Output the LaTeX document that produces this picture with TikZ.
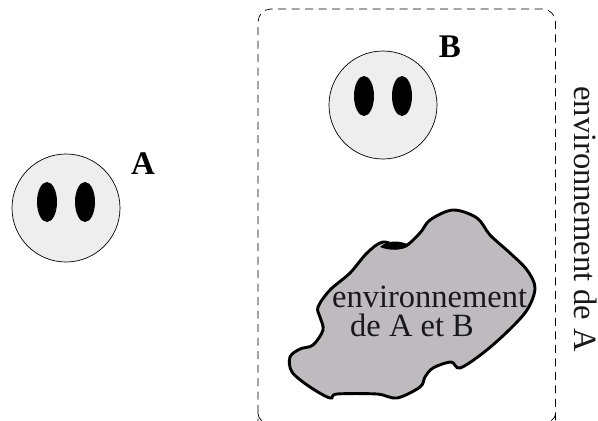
\documentclass[tikz,border=0pt]{standalone}
\usepackage{fontspec}
\setmainfont{Liberation Serif}
\usetikzlibrary{shapes.geometric}
\definecolor{blobgray}{RGB}{190,186,190}
\definecolor{facegray}{RGB}{238,238,238}
\tikzset{
  x=1pt,y=-1pt,
  face/.style={circle,draw=black,fill=facegray,line width=0.7pt,minimum size=108pt,inner sep=0pt},
  eye/.style={ellipse,fill=black,minimum width=20pt,minimum height=40pt,inner sep=0pt},
  lab/.style={font=\fontsize{32.5}{32.5}\selectfont,inner sep=0pt,text=black!90},
  bold/.style={font=\fontsize{33}{33}\selectfont\bfseries,inner sep=0pt},
  frame/.style={line width=0.7pt,dash pattern=on 8pt off 5.5pt,rounded corners=13pt},
  blob/.style={line width=2.9pt,fill=blobgray},
}
\begin{document}
\begin{tikzpicture}
\useasboundingbox (0,0) rectangle (598,421);
\begin{scope}
\clip (0,0) rectangle (598,421);
\draw[frame] (258,440) -- (258,9) -- (555.5,9) -- (555.5,440);
\end{scope}
\draw[line width=0.7pt] (258,413) .. controls (258.5,417) and (259.5,419) .. (262,421);
\draw[line width=0.7pt] (555.5,413) .. controls (555,417) and (554,419) .. (551,421);
\node[face] (faceA) at (66,208) {};
\node[eye] (eyeA1) at (47,202) {};
\node[eye] (eyeA2) at (85,202) {};
\node[face] (faceB) at (383,105) {};
\node[eye] (eyeB1) at (364,96) {};
\node[eye] (eyeB2) at (402,96) {};
\node[bold,anchor=base] (labA) at (143,174) {A};
\node[bold,anchor=base] (labB) at (450,57) {B};
\draw[blob] plot[smooth cycle,tension=0.55] coordinates {
(453,210)(477,218)(490,235)(510,253)(527,270)(535,288)(527,310)(507,332)(483,353)(460,368)(451,362)(433,368)(425,377)(420,387)(397,398)(377,394)(337,394)(330,398)(310,387)(292,372)(290,357)(300,349)(313,345)(323,330)(320,317)(318,307)(330,290)(350,273)(367,253)(383,242)(403,247)(420,233)(430,220)};
\fill[black] (380,247) .. controls (388,240) and (398,240) .. (410,245) .. controls (402,251) and (390,251) .. (380,247) -- cycle;
\node[lab,anchor=base west] (env) at (332,307) {environnement};
\node[lab,anchor=base west] (envab) at (350,336.5) {de A et B};
\node[lab,rotate=-90,anchor=base] (envA) at (574,219) {environnement de A};
\end{tikzpicture}
\end{document}
